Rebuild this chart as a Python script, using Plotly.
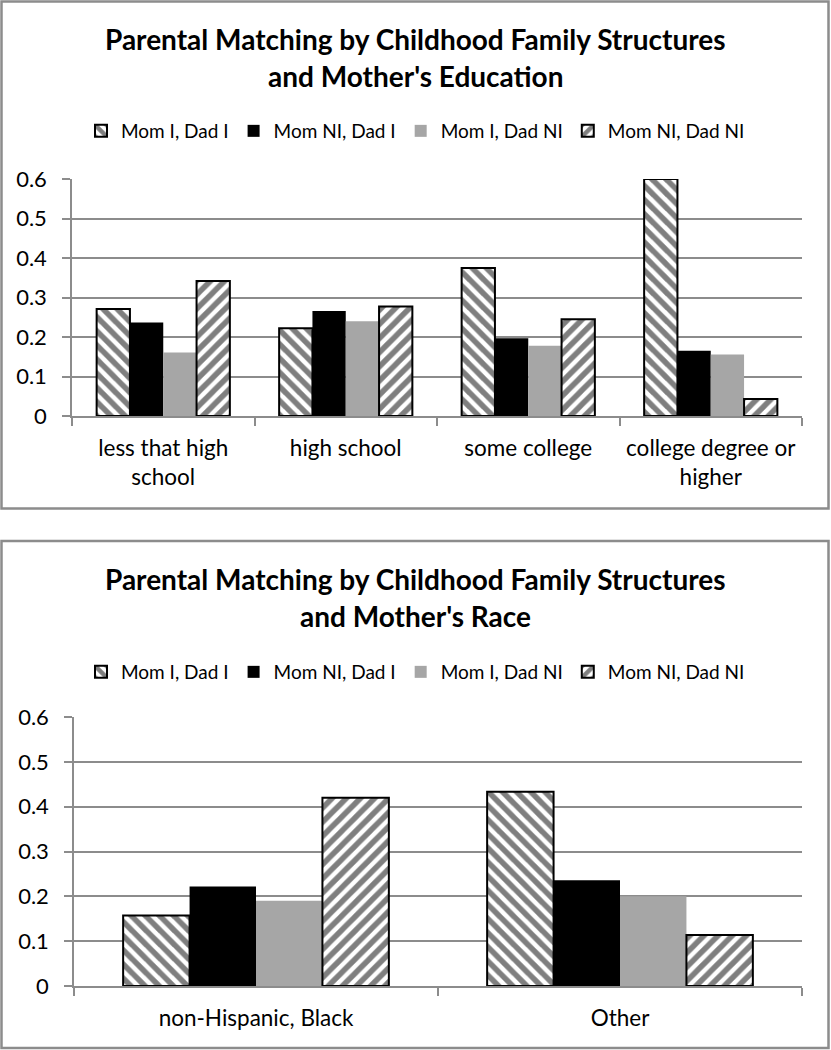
"""
Parental matching by childhood family structures: two grouped bar charts
(mother's education, mother's race) with hatch patterns.
"""
import plotly.graph_objects as go
from plotly.subplots import make_subplots

W, H = 831, 1050

# categorias y series
series_names = ["Mom I, Dad I", "Mom NI, Dad I", "Mom I, Dad NI", "Mom NI, Dad NI"]

edu_categories = ["less that high<br>school", "high school", "some college",
                  "college degree or<br>higher"]
edu_mom_i_dad_i = [0.271, 0.222, 0.375, 0.600]
edu_mom_ni_dad_i = [0.237, 0.266, 0.197, 0.165]
edu_mom_i_dad_ni = [0.161, 0.240, 0.178, 0.156]
edu_mom_ni_dad_ni = [0.342, 0.277, 0.245, 0.043]

race_categories = ["non-Hispanic, Black", "Other"]
race_mom_i_dad_i = [0.157, 0.433]
race_mom_ni_dad_i = [0.222, 0.236]
race_mom_i_dad_ni = [0.190, 0.200]
race_mom_ni_dad_ni = [0.420, 0.114]

y_ticks = [0, 0.1, 0.2, 0.3, 0.4, 0.5, 0.6]

FONT = "Lato"
GRID = "#8c8c8c"


def px_x(x):
    return x / W


def px_y(y):
    return 1 - y / H


def estilo(i):
    """Devuelve el marker para cada serie"""
    if i == 0:
        return dict(color="white", line=dict(color="black", width=2),
                    pattern=dict(shape="\\", size=10, solidity=0.55,
                                 fgcolor="black", bgcolor="white"))
    if i == 3:
        return dict(color="white", line=dict(color="black", width=2),
                    pattern=dict(shape="/", size=10, solidity=0.55,
                                 fgcolor="black", bgcolor="white"))
    if i == 1:
        return dict(color="black", line=dict(width=0))
    return dict(color="#a6a6a6", line=dict(width=0))


fig = make_subplots(rows=2, cols=1)

edu_series = [edu_mom_i_dad_i, edu_mom_ni_dad_i, edu_mom_i_dad_ni, edu_mom_ni_dad_ni]
race_series = [race_mom_i_dad_i, race_mom_ni_dad_i, race_mom_i_dad_ni, race_mom_ni_dad_ni]

for i, (name, vals) in enumerate(zip(series_names, edu_series)):
    fig.add_trace(go.Bar(x=edu_categories, y=vals, name=name, marker=estilo(i),
                         legend="legend"), row=1, col=1)

for i, (name, vals) in enumerate(zip(series_names, race_series)):
    fig.add_trace(go.Bar(x=race_categories, y=vals, name=name, marker=estilo(i),
                         legend="legend2"), row=2, col=1)

axis_x = dict(showgrid=False, showline=True, linecolor=GRID, linewidth=1.5,
              ticks="outside", tickson="boundaries", ticklen=8, tickcolor=GRID,
              tickwidth=1.5, tickangle=0,
              tickfont=dict(family=FONT, size=22.5, color="black"),
              ticklabelstandoff=11, automargin=False, fixedrange=True)
axis_y = dict(range=[0, 0.6], tickvals=y_ticks, ticktext=["0", "0.1", "0.2", "0.3",
                                                        "0.4", "0.5", "0.6"],
              showgrid=True, gridcolor=GRID, gridwidth=1.5, showline=True,
              linecolor=GRID, linewidth=1.5, ticks="outside", ticklen=8,
              tickcolor=GRID, tickwidth=1.5, zeroline=False,
              tickfont=dict(family=FONT, size=22, color="black"),
              ticklabelstandoff=11, automargin=False, fixedrange=True)

fig.update_xaxes(**axis_x)
fig.update_yaxes(**axis_y)
fig.update_xaxes(domain=[px_x(72), px_x(802)], row=1, col=1)
fig.update_yaxes(domain=[px_y(416), px_y(179)], row=1, col=1)
fig.update_xaxes(domain=[px_x(74), px_x(802)], row=2, col=1)
fig.update_yaxes(domain=[px_y(986), px_y(717)], row=2, col=1)

# titulos
titulos = [
    ("Parental Matching by Childhood Family Structures", 39),
    ("and Mother's Education", 76),
    ("Parental Matching by Childhood Family Structures", 579),
    ("and Mother's Race", 616),
]
for texto, yy in titulos:
    fig.add_annotation(text=f"<b>{texto}</b>", xref="paper", yref="paper",
                       x=0.5, y=px_y(yy), xanchor="center", yanchor="middle",
                       showarrow=False, font=dict(family=FONT, size=28, color="black"))

# marcos de cada grafico
for y0, y1 in [(1.5, 508.5), (541, 1048)]:
    fig.add_shape(type="rect", xref="paper", yref="paper",
                  x0=px_x(1.5), x1=px_x(828.5), y0=px_y(y1), y1=px_y(y0),
                  line=dict(color="#8c8c8c", width=2.5), fillcolor="rgba(0,0,0,0)")

legend_common = dict(orientation="h", x=0.5, xanchor="center", yanchor="middle",
                     font=dict(family=FONT, size=19, color="black"),
                     bgcolor="rgba(0,0,0,0)", itemclick=False, itemdoubleclick=False)

fig.update_layout(
    width=W, height=H, autosize=False,
    margin=dict(l=0, r=0, t=0, b=0, pad=0),
    paper_bgcolor="white", plot_bgcolor="white",
    barmode="group", bargap=0.27, bargroupgap=0,
    legend=dict(y=px_y(131), **legend_common),
    legend2=dict(y=px_y(672), **legend_common),
    showlegend=True,
)

fig.write_html("out.html", config={"displayModeBar": False},
               post_script="document.body.style.margin='0';"
                           "document.body.style.overflow='hidden';")
